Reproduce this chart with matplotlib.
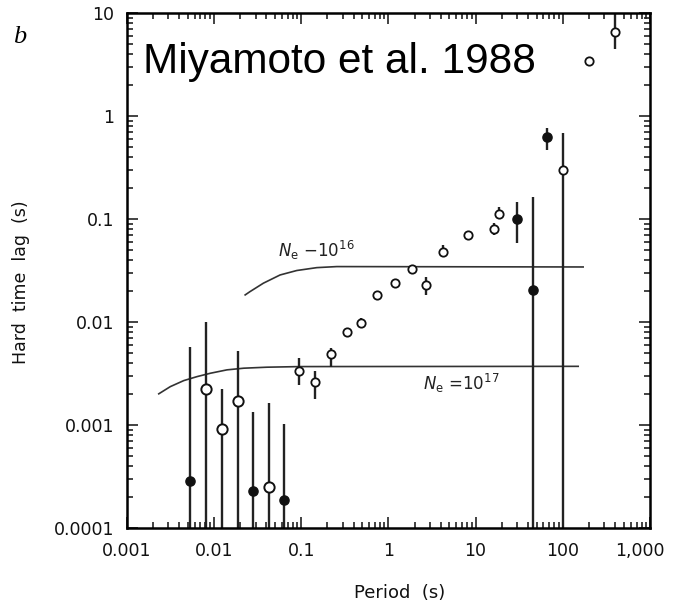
import numpy as np
import matplotlib
matplotlib.use("Agg")
import matplotlib.pyplot as plt
import matplotlib.transforms as mtransforms
from matplotlib.ticker import LogLocator, NullFormatter

# hard lag vs period, open circles
open_period = [0.0081, 0.0124, 0.0189, 0.0428, 0.095, 0.144, 0.22, 0.336, 0.486, 0.741,
               1.19, 1.87, 2.70, 4.24, 8.2, 16.3, 18.6, 100, 200, 398]
open_lag = [0.00223, 0.00091, 0.00171, 0.00025, 0.00334, 0.00261, 0.00489, 0.0080, 0.0098, 0.0183,
            0.0239, 0.0327, 0.0229, 0.0479, 0.070, 0.080, 0.112, 0.30, 3.44, 6.58]
open_lo = [0.0001, 0.0001, 0.0001, 0.0001, 0.00244, 0.00179, 0.00365, 0.0080, 0.0098, 0.0183,
           0.0239, 0.0327, 0.0183, 0.0479, 0.070, 0.070, 0.1026, 0.0001, 3.44, 4.5]
open_hi = [0.0100, 0.00223, 0.00523, 0.00163, 0.00447, 0.00334, 0.00558, 0.0080, 0.0109, 0.0183,
           0.0239, 0.0327, 0.0274, 0.056, 0.070, 0.0917, 0.131, 0.687, 3.44, 10.0]

# filled circles
filled_period = [0.00536, 0.0281, 0.0637, 29.9, 45.6, 66.1]
filled_lag = [0.000285, 0.000228, 0.000186, 0.100, 0.0205, 0.628]
filled_lo = [0.0001, 0.0001, 0.0001, 0.0586, 0.0001, 0.470]
filled_hi = [0.0057, 0.00133, 0.00102, 0.1466, 0.164, 0.767]

# model curves for two electron densities
ne16_period = [0.0228, 0.0259, 0.0369, 0.0573, 0.0891, 0.151, 0.256, 171]
ne16_lag = [0.0183, 0.0197, 0.0238, 0.0286, 0.0316, 0.0337, 0.0345, 0.0342]
ne17_period = [0.00233, 0.00316, 0.00451, 0.0064, 0.0091, 0.0141, 0.022, 0.0406, 0.097, 150]
ne17_lag = [0.00200, 0.00235, 0.00269, 0.00294, 0.00317, 0.00342, 0.00355, 0.00363, 0.00368, 0.0037]

xticks = [0.001, 0.01, 0.1, 1, 10, 100, 1000]
xticklabels = ["0.001", "0.01", "0.1", "1", "10", "100", "1,000"]
yticks = [0.0001, 0.001, 0.01, 0.1, 1, 10]
yticklabels = ["0.0001", "0.001", "0.01", "0.1", "1", "10"]

fig = plt.figure(figsize=(6.73, 6.03), dpi=100)
ax = fig.add_axes([0.1883, 0.1249, 0.7776, 0.8531])
ax.set_xscale("log")
ax.set_yscale("log")
ax.set_xlim(0.001, 1000)
ax.set_ylim(0.0001, 10)

ax.plot(ne16_period, ne16_lag, color="#333333", lw=1.2)
ax.plot(ne17_period, ne17_lag, color="#333333", lw=1.2)

ax.vlines(open_period, open_lo, open_hi, color="#222222", lw=1.7)
ax.vlines(filled_period, filled_lo, filled_hi, color="#222222", lw=1.7)

op = np.array(open_period)
ol = np.array(open_lag)
big = op < 0.08
ax.plot(op[big], ol[big], "o", ms=7.4, mfc="white", mec="#111111", mew=1.4, zorder=3)
ax.plot(op[~big], ol[~big], "o", ms=6.0, mfc="white", mec="#111111", mew=1.3, zorder=3)
ax.plot(filled_period, filled_lag, "o", ms=6.6, color="#111111", zorder=3)

ax.set_xticks(xticks)
ax.set_xticklabels(xticklabels)
ax.set_yticks(yticks)
ax.set_yticklabels(yticklabels)
for axis in (ax.xaxis, ax.yaxis):
    axis.set_minor_locator(LogLocator(base=10, subs=np.arange(2, 10), numticks=20))
    axis.set_minor_formatter(NullFormatter())
ax.tick_params(which="both", direction="in", top=True, right=True, width=1.2, color="#222222")
ax.tick_params(which="major", length=8)
ax.tick_params(which="minor", length=4.5)
ax.tick_params(axis="y", pad=9, labelsize=12.5, labelcolor="#111111")
ax.tick_params(axis="x", pad=10, labelsize=12.5, labelcolor="#111111")
for s in ax.spines.values():
    s.set_linewidth(1.8)

# keep the last period label inside the figure
last = ax.get_xticklabels()[-1]
last.set_transform(last.get_transform() + mtransforms.ScaledTranslation(-0.1, 0, fig.dpi_scale_trans))

ax.text(0.054, 0.043, r"$N_{\rm e}$ $-$10$^{16}$", fontsize=12, color="#222222")
ax.text(2.5, 0.00218, r"$N_{\rm e}$ =10$^{17}$", fontsize=12, color="#222222")

fig.text(0.2125, 0.879, "Miyamoto et al. 1988", fontsize=30.4, family="Liberation Sans",
         va="baseline", ha="left")
fig.text(0.019, 0.929, "b", fontsize=19, family="Liberation Serif", style="italic",
         va="baseline", ha="left")
fig.text(0.031, 0.532, "Hard  time  lag  (s)", rotation=90, ha="center", va="center",
         fontsize=12.5, color="#111111")
fig.text(0.594, 0.017, "Period  (s)", ha="center", va="center", fontsize=13, color="#111111")

fig.savefig("out.png", dpi=100)
